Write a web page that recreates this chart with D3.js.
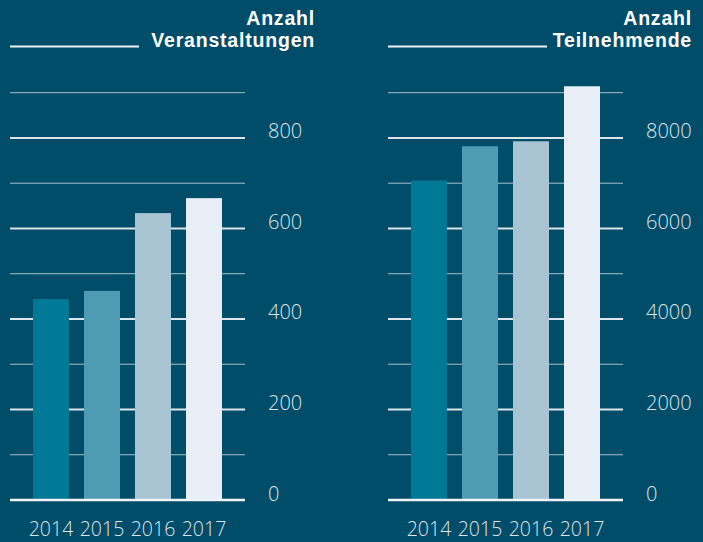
<!DOCTYPE html>
<html><head><meta charset="utf-8">
<script src="https://cdn.jsdelivr.net/npm/d3@7"></script>
<style>
html,body{margin:0;padding:0;background:#004d69;}
svg{display:block;}
</style></head>
<body>
<script>
const years = ["2014","2015","2016","2017"];
const veranstaltungen = [444, 462, 634, 667];
const teilnehmende = [7060, 7817, 7927, 9142];
const ticksLeft = [0, 200, 400, 600, 800];
const ticksRight = [0, 2000, 4000, 6000, 8000];
const minorLeft = [100, 300, 500, 700, 900];
const minorRight = [1000, 3000, 5000, 7000, 9000];
const titleLeft = ["Anzahl", "Veranstaltungen"];
const titleRight = ["Anzahl", "Teilnehmende"];
const colors = ["#007996", "#4f9bb3", "#a8c4d2", "#e7eef5"];

const W = 703, H = 542;
const svg = d3.select("body").append("svg").attr("width", W).attr("height", H);
svg.append("rect").attr("width", W).attr("height", H).attr("fill", "#004d69");

function panel(x0, data, maxV, ticks, minor, title, titleRightX, ulEnd, labelX) {
  const g = svg.append("g");
  const y = d3.scaleLinear().domain([0, maxV]).range([500, 92.7]);
  const gx0 = x0, gx1 = x0 + 235;
  const x = d3.scaleBand().domain(years).range([x0 + 23, x0 + 212]).paddingInner(15/51).paddingOuter(0);
  // minor grid
  g.selectAll("line.minor").data(minor).join("line")
    .attr("x1", gx0).attr("x2", gx1)
    .attr("y1", d => y(d)).attr("y2", d => y(d))
    .attr("stroke", "#a9bfcb").attr("stroke-width", 1);
  // major grid
  g.selectAll("line.major").data(ticks.filter(d => d > 0)).join("line")
    .attr("x1", gx0).attr("x2", gx1)
    .attr("y1", d => y(d)).attr("y2", d => y(d))
    .attr("stroke", "#dfe6eb").attr("stroke-width", 2);
  // bars
  g.selectAll("rect.bar").data(data).join("rect")
    .attr("x", (d, i) => x(years[i]))
    .attr("width", x.bandwidth())
    .attr("y", d => y(d))
    .attr("height", d => y(0) - y(d))
    .attr("fill", (d, i) => colors[i]);
  // baseline
  g.append("line").attr("x1", gx0).attr("x2", gx1)
    .attr("y1", y(0)).attr("y2", y(0))
    .attr("stroke", "#f2f5f8").attr("stroke-width", 2.5);
  // tick labels
  g.selectAll("text.tick").data(ticks).join("text")
    .attr("x", labelX).attr("y", d => y(d) + 0.5)
    .attr("fill", "#dde6ec")
    .attr("font-family", "'Open Sans', sans-serif")
    .attr("font-weight", 300)
    .attr("font-size", 20)
    .text(d => d);
  // year labels
  g.selectAll("text.year").data(years).join("text")
    .attr("x", d => x(d) + x.bandwidth()/2)
    .attr("y", 536)
    .attr("text-anchor", "middle")
    .attr("fill", "#dde6ec")
    .attr("font-family", "'Open Sans', sans-serif")
    .attr("font-weight", 300)
    .attr("font-size", 19.5)
    .text(d => d);
  // title
  g.selectAll("text.title").data(title).join("text")
    .attr("x", titleRightX).attr("y", (d, i) => 25 + i * 22)
    .attr("text-anchor", "end")
    .attr("fill", "#ffffff")
    .attr("font-family", "'Liberation Sans', Arial, sans-serif")
    .attr("font-weight", 700)
    .attr("font-size", 19.5)
    .attr("letter-spacing", 0.8)
    .text(d => d);
  // underline
  g.append("line").attr("x1", gx0).attr("x2", ulEnd)
    .attr("y1", 46.5).attr("y2", 46.5)
    .attr("stroke", "#eef2f5").attr("stroke-width", 2);
}

panel(10, veranstaltungen, 900, ticksLeft, minorLeft, titleLeft, 315, 139, 268);
panel(388, teilnehmende, 9000, ticksRight, minorRight, titleRight, 692, 547, 646);
</script>
</body></html>
